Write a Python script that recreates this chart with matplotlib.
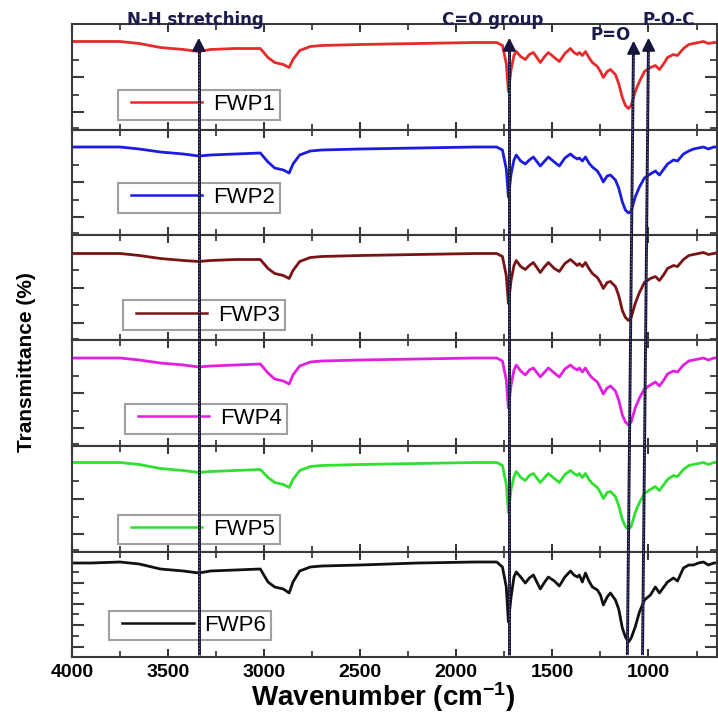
import numpy as np
import matplotlib
matplotlib.use("Agg")
import matplotlib.pyplot as plt
from matplotlib.ticker import FixedLocator, NullFormatter
from matplotlib.legend_handler import HandlerLine2D
from matplotlib.lines import Line2D

plt.rcParams['font.family'] = ['Liberation Sans', 'DejaVu Sans']
plt.rcParams['mathtext.fontset'] = 'custom'
plt.rcParams['mathtext.rm'] = 'Liberation Sans:bold'
plt.rcParams['mathtext.default'] = 'rm'

# ---------------- data ----------------
wavenumber = [4000, 3900, 3750, 3650, 3540, 3420, 3340, 3280, 3150, 3020,
              2980, 2945, 2900, 2870, 2850, 2815, 2760, 2700, 2500, 2200,
              1900, 1790, 1760, 1740, 1729, 1715, 1700, 1688, 1665, 1641,
              1620, 1599, 1563, 1540, 1521, 1490, 1464, 1435, 1406, 1388,
              1370, 1360, 1344, 1328, 1310, 1292, 1266, 1250, 1235, 1215,
              1198, 1172, 1155, 1136, 1120, 1104, 1090, 1069, 1047, 1021,
              990, 964, 943, 920, 901, 870, 849, 818, 790, 766,
              740, 714, 688, 660, 641]

fwp1 = [88, 88, 88, 86, 82, 80, 78, 80, 81, 81,
        72, 67, 65, 62, 70, 79, 83, 84, 85, 86,
        87, 87, 84, 66, 38, 60, 74, 78, 73, 70,
        75, 77, 67, 73, 77, 72, 68, 76, 81, 77,
        75, 77, 74, 78, 72, 67, 63, 58, 52, 58,
        60, 55, 46, 32, 24, 21, 24, 38, 48, 58,
        62, 64, 60, 66, 72, 75, 74, 81, 85, 86,
        87, 88, 86, 87, 87]

fwp2 = [88, 88, 88, 86, 83, 81, 79, 80, 81, 82,
        73, 67, 65, 62, 71, 80, 84, 85, 86, 87,
        88, 88, 85, 66, 38, 61, 75, 80, 74, 71,
        75, 78, 69, 74, 78, 73, 69, 77, 81, 78,
        76, 77, 74, 78, 72, 68, 64, 59, 53, 59,
        60, 55, 47, 33, 25, 22, 24, 38, 48, 57,
        61, 64, 60, 66, 71, 75, 74, 81, 84, 86,
        87, 88, 86, 88, 88]

fwp3 = [87, 87, 87, 85, 82, 80, 79, 80, 81, 81,
        72, 67, 65, 62, 70, 79, 83, 84, 85, 86,
        87, 87, 84, 65, 37, 60, 75, 80, 74, 71,
        75, 78, 68, 74, 78, 72, 69, 77, 81, 78,
        75, 77, 74, 78, 72, 67, 63, 58, 52, 58,
        59, 54, 45, 30, 23, 20, 23, 37, 48, 58,
        62, 64, 60, 66, 72, 75, 74, 81, 85, 86,
        87, 88, 86, 87, 88]

fwp4 = [88, 88, 88, 86, 83, 81, 79, 80, 81, 82,
        73, 67, 65, 62, 71, 80, 84, 85, 86, 87,
        88, 88, 85, 66, 38, 61, 76, 81, 75, 71,
        76, 78, 69, 74, 78, 73, 69, 77, 81, 78,
        76, 78, 74, 78, 72, 68, 64, 58, 52, 58,
        60, 55, 46, 31, 24, 21, 24, 38, 48, 57,
        61, 64, 60, 66, 72, 75, 74, 81, 85, 86,
        87, 88, 86, 88, 88]

fwp5 = [89, 89, 89, 87, 83, 81, 79, 80, 81, 82,
        74, 69, 67, 64, 72, 81, 85, 86, 87, 88,
        89, 89, 86, 67, 39, 62, 75, 80, 74, 71,
        76, 78, 69, 74, 78, 73, 69, 77, 81, 78,
        76, 78, 74, 78, 72, 68, 64, 59, 53, 59,
        60, 55, 46, 32, 25, 22, 25, 39, 49, 58,
        62, 65, 61, 67, 72, 76, 75, 82, 86, 87,
        88, 89, 87, 89, 89]

fwp6 = [94, 94, 95, 93, 88, 86, 84, 86, 87, 88,
        75, 70, 68, 64, 75, 86, 90, 91, 92, 94,
        95, 95, 90, 70, 35, 60, 80, 85, 80, 74,
        79, 82, 68, 75, 80, 76, 71, 80, 86, 82,
        80, 82, 75, 84, 76, 70, 67, 62, 52, 60,
        64, 57, 48, 29, 20, 15, 19, 30, 45, 57,
        62, 70, 64, 70, 75, 79, 76, 89, 92, 92,
        94, 95, 92, 94, 94]

series_names = ['FWP1', 'FWP2', 'FWP3', 'FWP4', 'FWP5', 'FWP6']
series_values = [fwp1, fwp2, fwp3, fwp4, fwp5, fwp6]
series_colors = ['#e52b2b', '#1c1ce0', '#7a1414', '#e01fe0', '#2fe02f', '#111111']

x_ticks = [4000, 3500, 3000, 2500, 2000, 1500, 1000]

band_labels = ['N-H stretching', 'C=O group', 'P=O', 'P-O-C']
band_wn_top = [3340, 1724, 1078, 1000]
band_wn_bottom = [3340, 1724, 1110, 1031]


class PaddedLineHandler(HandlerLine2D):
    """Legend line handle with some empty room on its left side."""
    def __init__(self, lead=6, **kw):
        super().__init__(**kw)
        self.lead = lead

    def create_artists(self, legend, orig_handle, xdescent, ydescent,
                       width, height, fontsize, trans):
        arts = super().create_artists(legend, orig_handle, xdescent, ydescent,
                                      width, height, fontsize, trans)
        for a in arts:
            if isinstance(a, Line2D):
                xd = np.asarray(a.get_xdata(), dtype=float).copy()
                if xd.size >= 2:
                    xd[0] = xd[0] + self.lead
                    a.set_xdata(xd)
        return arts


# ---------------- layout ----------------
W, H = 718, 717
fig = plt.figure(figsize=(W / 100, H / 100), dpi=100)
left_px, right_px, top_px, bot_px = 72, 716.5, 24, 657
gs = fig.add_gridspec(6, 1, left=left_px / W, right=right_px / W,
                      top=1 - top_px / H, bottom=1 - bot_px / H, hspace=0)

legend_anchor = [(0.0714, 0.377), (0.0714, 0.495), (0.079, 0.381),
                 (0.082, 0.40), (0.0714, 0.35), (0.0575, 0.44)]

spine_color = '#3a3a3a'
axes = []
for i in range(6):
    ax = fig.add_subplot(gs[i])
    axes.append(ax)
    ln, = ax.plot(wavenumber, series_values[i], color=series_colors[i], lw=2.0,
                  label=series_names[i], solid_joinstyle='round')
    ax.set_xlim(4000, 646)
    ax.set_ylim(0, 105.5)
    for s in ax.spines.values():
        s.set_color(spine_color)
        s.set_linewidth(1.5)
    ax.xaxis.set_major_locator(FixedLocator(x_ticks))
    ax.xaxis.set_minor_locator(FixedLocator(np.arange(750, 4000, 500)))
    if i < 5:
        ax.yaxis.set_major_locator(FixedLocator([17.5, 52.5]))
        ax.yaxis.set_minor_locator(FixedLocator([1.5, 35, 70]))
    else:
        ax.yaxis.set_major_locator(FixedLocator([10, 32, 53, 74]))
        ax.yaxis.set_minor_locator(FixedLocator([21, 43, 64, 85]))
    ax.tick_params(axis='both', which='both', direction='in', top=True,
                   right=True, color=spine_color)
    ax.tick_params(axis='x', which='major', length=6, width=1.5)
    ax.tick_params(axis='x', which='minor', length=4, width=1.3)
    ax.tick_params(axis='y', which='major', length=8.5, width=1.5)
    ax.tick_params(axis='y', which='minor', length=5, width=1.3)
    ax.yaxis.set_major_formatter(NullFormatter())
    if i < 5:
        ax.xaxis.set_major_formatter(NullFormatter())
    else:
        ax.set_xticklabels([str(t) for t in x_ticks], fontsize=14,
                           fontweight='bold')
        ax.tick_params(axis='x', which='major', pad=5)
    leg = ax.legend(handles=[ln], loc='upper left',
                    bbox_to_anchor=legend_anchor[i],
                    borderaxespad=0, fontsize=16, handlelength=3.6,
                    handletextpad=0.5, borderpad=0.2, fancybox=False,
                    framealpha=1, edgecolor='#a0a0a0',
                    handler_map={Line2D: PaddedLineHandler(lead=6)})
    leg.get_frame().set_linewidth(1.5)
    for line in leg.get_lines():
        line.set_linewidth(1.8)

# ---------------- band marker arrows ----------------
ov = fig.add_axes([left_px / W, 1 - bot_px / H, (right_px - left_px) / W,
                   (bot_px - top_px) / H], facecolor='none')
ov.set_xlim(4000, 646)
ov.set_ylim(0, 1)
ov.axis('off')
arrow_col = '#16163e'
tip_y = [1 - 11 / 633, 1 - 11 / 633, 1 - 14 / 633, 1 - 11 / 633]
for xt, xb, ty in zip(band_wn_top, band_wn_bottom, tip_y):
    ov.plot([xb, xt], [0.003, ty - 0.012], color=arrow_col, lw=2.1,
            solid_capstyle='butt', zorder=5)
    ov.plot([xb, xt], [0.003, ty - 0.012], color='white', lw=0.5,
            ls=(0, (1.2, 3.5)), alpha=0.8, zorder=6)
    ov.annotate('', xy=(xt, ty), xytext=(xt + (xt - xb) * 0.02, ty - 0.018),
                arrowprops=dict(arrowstyle='-|>,head_length=0.55,head_width=0.28',
                                color=arrow_col, lw=1.5, mutation_scale=14),
                zorder=7)

# ---------------- texts ----------------
lab_kw = dict(fontsize=12, fontweight='bold', color='#1b1b4d',
              family=['DejaVu Sans'], ha='center', va='baseline', zorder=10)
fig.text(195 / W, 1 - 25 / H, band_labels[0], **lab_kw)
fig.text(493 / W, 1 - 25 / H, band_labels[1], **lab_kw)
fig.text(611 / W, 1 - 40 / H, band_labels[2], **lab_kw)
fig.text(669 / W, 1 - 25 / H, band_labels[3], **lab_kw)

fig.text(383 / W, 1 - 697 / H, 'Wavenumber (cm$^{-1}$)', ha='center',
         va='center', fontsize=20, fontweight='bold')
fig.text(27 / W, 1 - 362 / H, 'Transmittance (%)', rotation=90, ha='center',
         va='center', fontsize=15, fontweight='bold')

fig.savefig('out.png', dpi=100)
